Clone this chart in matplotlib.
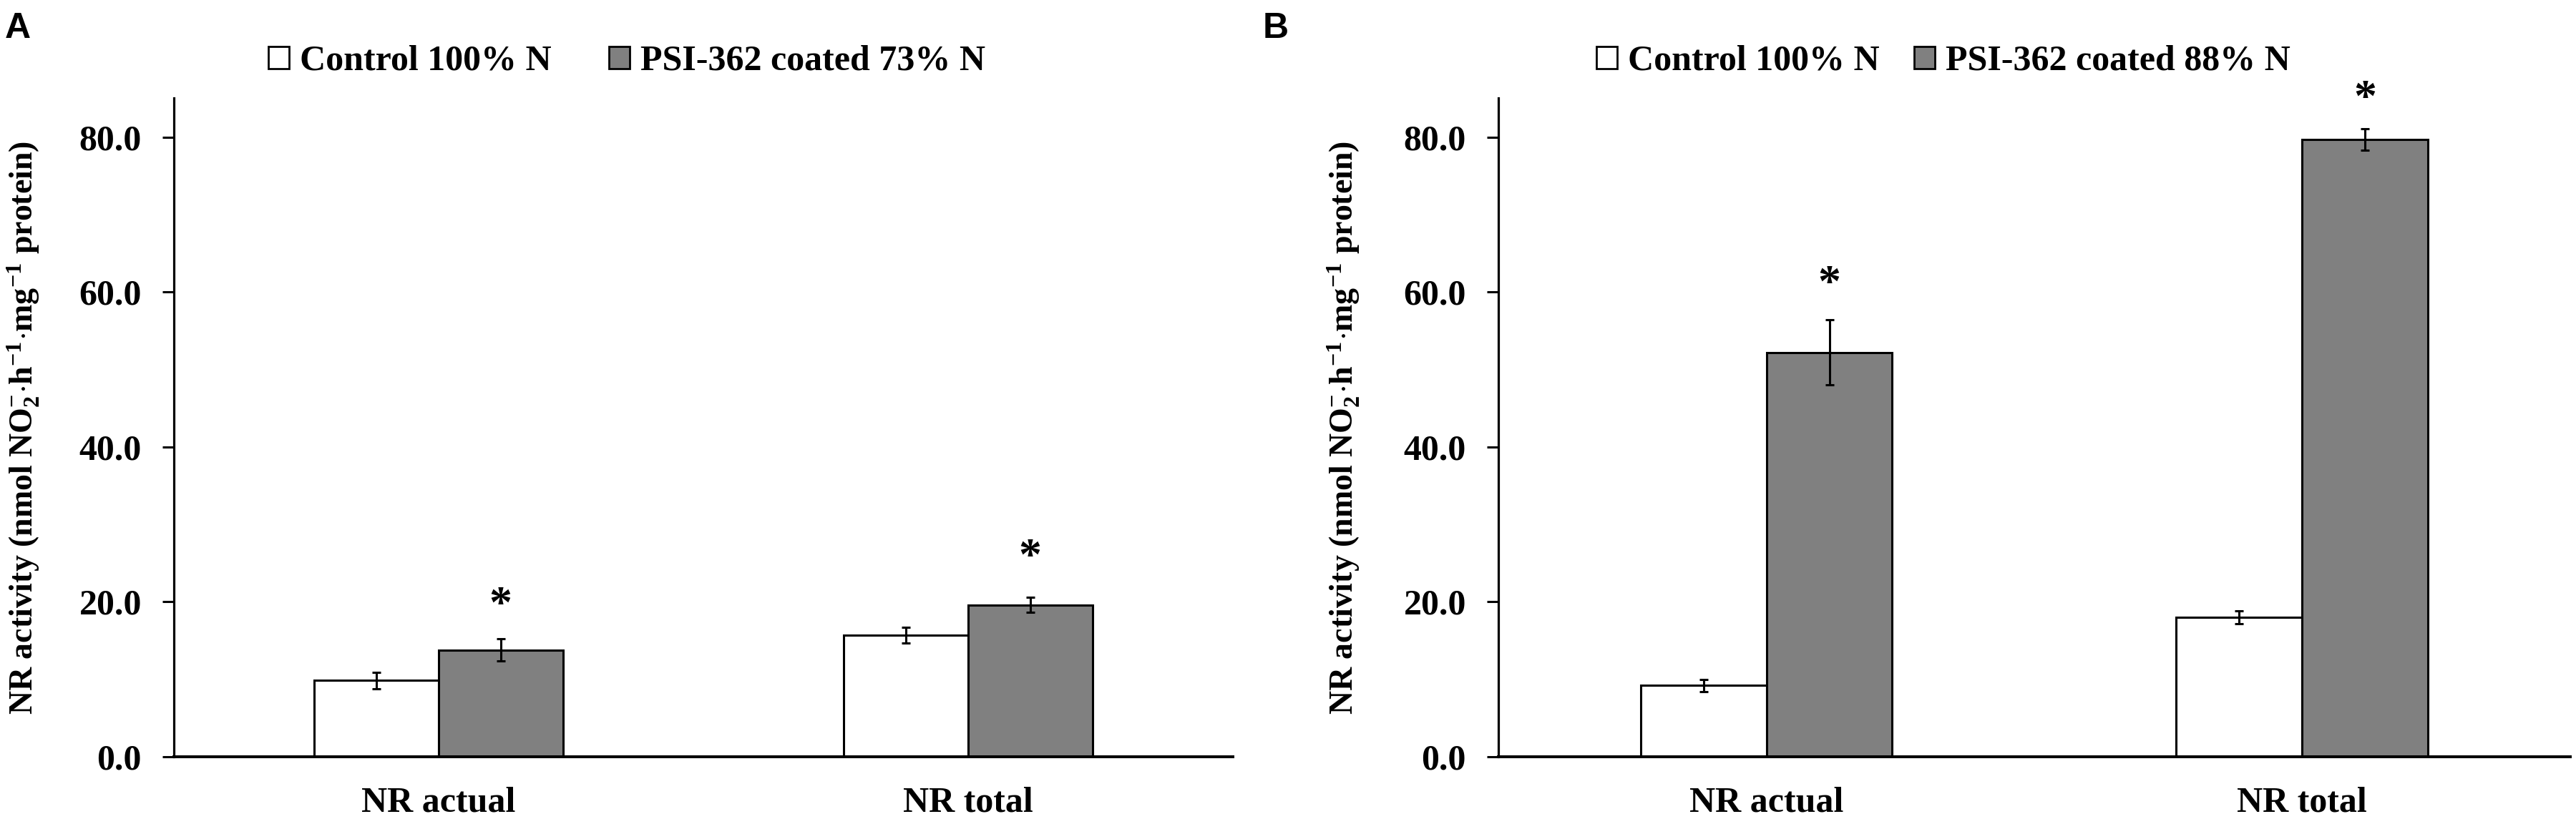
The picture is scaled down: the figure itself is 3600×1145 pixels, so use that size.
import numpy as np
import matplotlib
matplotlib.use("Agg")
import matplotlib.pyplot as plt
from matplotlib.patches import Patch

plt.rcParams["font.family"] = ["Liberation Serif", "DejaVu Serif"]
plt.rcParams["font.weight"] = "bold"
plt.rcParams["mathtext.fontset"] = "custom"
plt.rcParams["mathtext.rm"] = "Liberation Serif:bold"
plt.rcParams["mathtext.bf"] = "Liberation Serif:bold"
plt.rcParams["mathtext.it"] = "Liberation Serif:bold"

# ── data ──
categories = ["NR actual", "NR total"]

a_control = [9.85, 15.7]
a_control_err = [1.07, 1.0]
a_coated = [13.8, 19.6]
a_coated_err = [1.4, 0.95]
a_star_y = [20.8, 27.0]

b_control = [9.2, 18.0]
b_control_err = [0.8, 0.8]
b_coated = [52.2, 79.7]
b_coated_err = [4.2, 1.4]
b_star_y = [62.3, 86.2]

yticks = [0.0, 20.0, 40.0, 60.0, 80.0]
ylabel = (r"NR activity (nmol NO$_{2}^{-}$$\cdot$h$^{-1}$$\cdot$mg$^{-1}$ protein)")

W, H = 3600, 1145
fig = plt.figure(figsize=(W / 100, H / 100), dpi=100)

bar_w = 0.235
grey = "#808080"
lw = 2.2


def draw_panel(rect, ctrl, ctrl_err, coat, coat_err, star_y, coat_label,
               legend_x, col_space, ylab_x):
    ax = fig.add_axes(rect)
    x = np.arange(len(categories))
    ax.bar(x - bar_w / 2, ctrl, bar_w, color="white", edgecolor="black",
           linewidth=lw, zorder=2)
    ax.bar(x + bar_w / 2, coat, bar_w, color=grey, edgecolor="black",
           linewidth=lw, zorder=2)
    ax.errorbar(x - bar_w / 2, ctrl, yerr=ctrl_err, fmt="none", ecolor="black",
                elinewidth=lw, capsize=4.3, capthick=lw, zorder=3)
    ax.errorbar(x + bar_w / 2, coat, yerr=coat_err, fmt="none", ecolor="black",
                elinewidth=lw, capsize=4.3, capthick=lw, zorder=3)
    # significance asterisks (glyph sits high in its box, so shift down a bit)
    for xi, sy in zip(x + bar_w / 2, star_y):
        ax.annotate("*", (xi, sy), xytext=(0, -11), textcoords="offset points",
                    ha="center", va="center", fontsize=46, fontweight="bold",
                    annotation_clip=False)

    ax.set_xlim(-0.5, 1.5)
    ax.set_ylim(0, 85)
    ax.set_yticks(yticks)
    ax.set_yticklabels([f"{t:.1f}" for t in yticks], fontsize=36,
                       fontweight="bold")
    ax.set_xticks(x)
    ax.set_xticklabels(categories, fontsize=36, fontweight="bold")
    ax.tick_params(axis="x", length=0, pad=30)
    ax.tick_params(axis="y", length=11.5, width=lw, direction="out", pad=21)
    ax.spines["top"].set_visible(False)
    ax.spines["right"].set_visible(False)
    ax.spines["left"].set_linewidth(2.3)
    ax.spines["bottom"].set_linewidth(2.9)
    ax.set_ylabel(ylabel, fontsize=33, fontweight="bold")
    ax.yaxis.set_label_coords(ylab_x, 0.5)

    handles = [Patch(facecolor="white", edgecolor="black", linewidth=2),
               Patch(facecolor=grey, edgecolor="black", linewidth=2)]
    fig.legend(handles, ["Control 100% N", coat_label], loc="center",
               bbox_to_anchor=(legend_x, 0.925), ncol=2, frameon=False,
               prop={"family": "Liberation Serif", "weight": "bold",
                     "size": 36},
               handlelength=0.58, handleheight=0.58, handletextpad=0.3,
               columnspacing=col_space, borderaxespad=0, borderpad=0)
    return ax


draw_panel([0.0675, 0.076, 0.411, 0.804], a_control, a_control_err,
           a_coated, a_coated_err, a_star_y, "PSI-362 coated 73% N",
           0.2433, 1.6, -0.125)
draw_panel([0.5817, 0.076, 0.416, 0.804], b_control, b_control_err,
           b_coated, b_coated_err, b_star_y, "PSI-362 coated 88% N",
           0.7544, 0.95, -0.1275)

fig.text(0.002, 0.985, "A", fontsize=36, fontweight="bold",
         family="Liberation Sans", va="top", ha="left")
fig.text(0.4903, 0.985, "B", fontsize=36, fontweight="bold",
         family="Liberation Sans", va="top", ha="left")

fig.savefig("out.png", dpi=100)
